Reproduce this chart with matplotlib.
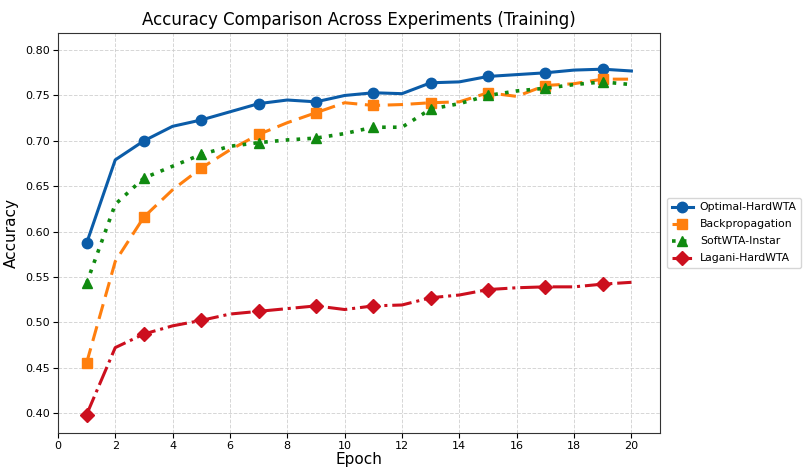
import matplotlib
matplotlib.use("Agg")
import matplotlib.pyplot as plt

epochs = list(range(1, 21))
optimal_hardwta = [0.587, 0.679, 0.700, 0.716, 0.723, 0.732, 0.741, 0.745, 0.743, 0.750,
                   0.753, 0.752, 0.764, 0.765, 0.771, 0.773, 0.775, 0.778, 0.779, 0.777]
backprop = [0.455, 0.567, 0.616, 0.646, 0.670, 0.690, 0.707, 0.720, 0.731, 0.742,
            0.739, 0.740, 0.742, 0.743, 0.753, 0.749, 0.761, 0.763, 0.768, 0.768]
softwta_instar = [0.543, 0.630, 0.659, 0.672, 0.685, 0.694, 0.698, 0.701, 0.703, 0.708,
                  0.715, 0.715, 0.735, 0.741, 0.750, 0.755, 0.758, 0.762, 0.765, 0.762]
lagani_hardwta = [0.398, 0.472, 0.487, 0.496, 0.502, 0.509, 0.512, 0.515, 0.518, 0.514,
                  0.518, 0.519, 0.527, 0.530, 0.536, 0.538, 0.539, 0.539, 0.542, 0.544]
labels = ["Optimal-HardWTA", "Backpropagation", "SoftWTA-Instar", "Lagani-HardWTA"]

fig = plt.figure(figsize=(8.04, 4.7), dpi=100)
ax = fig.add_axes([0.072, 0.079, 0.749, 0.851])

ax.plot(epochs, optimal_hardwta, color="#0b5ca8", linestyle="-", marker="o",
        markersize=7.5, linewidth=2.2, markevery=(0, 2), label=labels[0])
ax.plot(epochs, backprop, color="#ff7f0e", linestyle=(0, (5, 2.5)), marker="s",
        markersize=7.5, linewidth=2.2, markevery=(0, 2), label=labels[1])
ax.plot(epochs, softwta_instar, color="#108a10", linestyle=(0, (1, 2)), marker="^",
        markersize=7.5, linewidth=2.6, markevery=(0, 2), label=labels[2])
ax.plot(epochs, lagani_hardwta, color="#cc0f1e", linestyle="-.", marker="D",
        markersize=7, linewidth=2.2, markevery=(0, 2), label=labels[3])

ax.set_xlim(0, 21)
ax.set_ylim(0.378, 0.819)
ax.set_xticks(range(0, 21, 2))
yt = [0.40, 0.45, 0.50, 0.55, 0.60, 0.65, 0.70, 0.75, 0.80]
ax.set_yticks(yt)
ax.set_yticklabels([f"{v:.2f}" for v in yt])
ax.tick_params(labelsize=8, pad=2)
ax.grid(True, linestyle="--", color="#cccccc", linewidth=0.7, alpha=0.8)
for s in ax.spines.values():
    s.set_color("#333333")

ax.set_title("Accuracy Comparison Across Experiments (Training)", fontsize=12, pad=6)
ax.set_xlabel("Epoch", fontsize=11, labelpad=1)
ax.set_ylabel("Accuracy", fontsize=11, labelpad=5)

ax.legend(loc="center left", bbox_to_anchor=(1.012, 0.5), fontsize=7.8,
          handlelength=2.0, handletextpad=0.6, borderpad=0.4, labelspacing=0.65,
          borderaxespad=0)

fig.savefig("out.png", dpi=100)
